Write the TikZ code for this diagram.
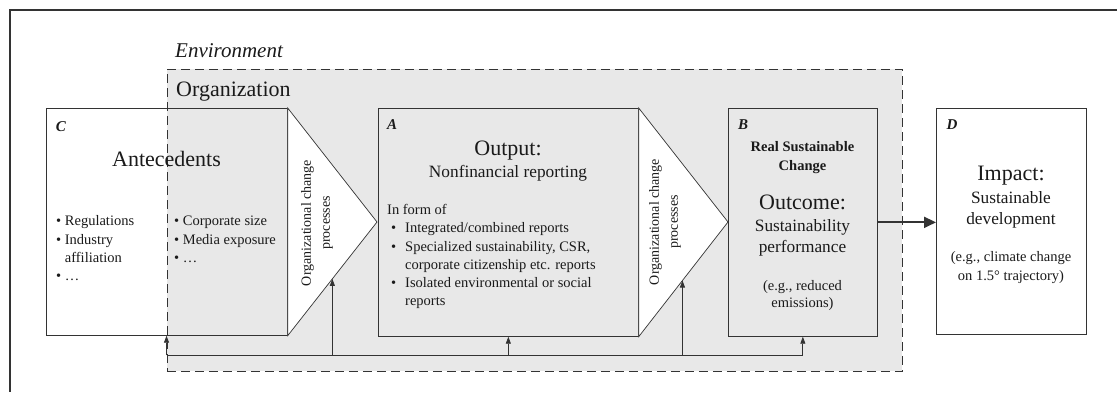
\documentclass[tikz,border=0pt]{standalone}
\usepackage{fontspec}
\setmainfont{Liberation Serif}
\usetikzlibrary{arrows.meta,calc}
\definecolor{orgfill}{HTML}{E8E8E8}
\definecolor{ln}{HTML}{333333}
\definecolor{txt}{HTML}{1A1A1A}
\newcommand{\fsz}[2]{\fontsize{#1}{#2}\selectfont}
\begin{document}
\begin{tikzpicture}[x=1pt,y=-1pt,
  every node/.style={text=txt, inner sep=0pt},
  box/.style={draw=ln, line width=0.7pt, anchor=north west, inner sep=0pt},
  org/.style={draw=ln, dash pattern=on 9pt off 5pt, fill=orgfill, line width=0.8pt, anchor=north west},
  tri/.style={draw=ln, line width=0.7pt, fill=white},
  frame/.style={draw=ln, line width=1.5pt},
  fb/.style={draw=ln, line width=0.8pt},
  fbarrow/.style={fb, -{Triangle[width=5pt,length=7pt]}},
  bigarrow/.style={draw=ln, line width=2pt, -{Triangle[width=11pt,length=12pt]}},
  letter/.style={font=\bfseries\itshape\fsz{15}{18}, anchor=base},
  big/.style={font=\fsz{22}{26}, anchor=base},
  mid/.style={font=\fsz{17.3}{21}, anchor=base},
  small/.style={font=\fsz{14.5}{18}, anchor=base},
  smallw/.style={font=\fsz{14.5}{18}, anchor=base west},
  bsmall/.style={font=\bfseries\fsz{14.5}{18}, anchor=base},
  rot/.style={font=\fsz{14}{19}, rotate=90, align=center},
  ]
\useasboundingbox (0,0) rectangle (1117,392);
% outer frame (environment)
\draw[frame] (1117,10) -- (10,10) -- (10,392);
\node[font=\itshape\fsz{21}{25}, anchor=base west] (env) at (175,57) {Environment};
% organization
\node[org, minimum width=735.5pt, minimum height=302pt] (org) at (166.5,69) {};
\node[font=\fsz{22}{26}, anchor=base west] (orgl) at (176,96) {Organization};
% boxes
\node[box, minimum width=241pt, minimum height=227pt] (C) at (46,108) {};
\node[box, minimum width=260pt, minimum height=228pt] (A) at (378,108) {};
\node[box, minimum width=149pt, minimum height=228pt] (B) at (728,108) {};
\node[box, fill=white, minimum width=150pt, minimum height=226pt] (D) at (936,108) {};
% triangles
\coordinate (T1tip) at (377,222);
\coordinate (T2tip) at (728,222);
\draw[tri] (C.north east) -- (T1tip) -- (C.south east) -- cycle;
\draw[tri] (A.north east) -- (T2tip) -- (A.south east) -- cycle;
\node[rot] (p1) at (317,223) {Organizational change\\processes};
\node[rot] (p2) at (665,222) {Organizational change\\processes};
% feedback connectors
\coordinate (fbL) at (166.5,355);
\coordinate (fbR) at (B.south |- fbL);
\coordinate (t1p) at ($(C.south east)!0.5!(T1tip)$);
\coordinate (t2p) at ($(A.south east)!0.49!(T2tip)$);
\draw[fb] (fbL) -- (fbR);
\draw[fbarrow] (fbL) -- (fbL |- C.south);
\draw[fbarrow] (t1p |- fbL) -- (t1p);
\draw[fbarrow] (A.south |- fbL) -- (A.south);
\draw[fbarrow] (t2p |- fbL) -- (t2p);
\draw[fbarrow] (fbR) -- (B.south);
% main arrow
\draw[bigarrow] (B.east) -- (B.east -| D.west);
% C texts
\node[letter] (Cl) at (61,131) {C};
\node[big] (ant) at (166.5,166.5) {Antecedents};
\node[smallw] (cl1) at (56,225.7) {• Regulations};
\node[smallw] (cl2) at (56,244.3) {• Industry};
\node[smallw] (cl3) at (56,262.7) {\phantom{• }affiliation};
\node[smallw] (cl4) at (56,280.7) {• …};
\node[smallw] (cr1) at (174,225.7) {• Corporate size};
\node[smallw] (cr2) at (174,244.3) {• Media exposure};
\node[smallw] (cr3) at (174,262.5) {• …};
% A texts
\node[letter] (Al) at (392,129) {A};
\node[big] (outp) at (508,155) {Output:};
\node[mid] (nonf) at (508,177) {Nonfinancial reporting};
\node[smallw] (inf) at (387,214) {In form of};
\node[smallw] (a1) at (391,232.7) {\makebox[14pt][l]{•}Integrated/combined reports};
\node[smallw] (a2) at (391,251) {\makebox[14pt][l]{•}Specialized sustainability, CSR,};
\node[smallw] (a3) at (391,269.5) {\hspace*{14pt}corporate citizenship etc. reports};
\node[smallw] (a4) at (391,287.5) {\makebox[14pt][l]{•}Isolated environmental or social};
\node[smallw] (a5) at (391,305.5) {\hspace*{14pt}reports};
% B texts
\node[letter] (Bl) at (743,129) {B};
\node[bsmall] (rs1) at (802.5,151.7) {Real Sustainable};
\node[bsmall] (rs2) at (802.5,170) {Change};
\node[big] (outc) at (802.5,209) {Outcome:};
\node[mid] (sus) at (802.5,231.7) {Sustainability};
\node[mid] (perf) at (802.5,252.7) {performance};
\node[small] (eg1) at (802.5,290) {(e.g., reduced};
\node[small] (eg2) at (802.5,307) {emissions)};
% D texts
\node[letter] (Dl) at (952,129) {D};
\node[big] (imp) at (1011,180.7) {Impact:};
\node[mid] (sd1) at (1011,203.3) {Sustainable};
\node[mid] (sd2) at (1011,224.3) {development};
\node[small] (eg3) at (1011,261.7) {(e.g., climate change};
\node[small] (eg4) at (1011,280) {on 1.5° trajectory)};
\end{tikzpicture}
\end{document}
